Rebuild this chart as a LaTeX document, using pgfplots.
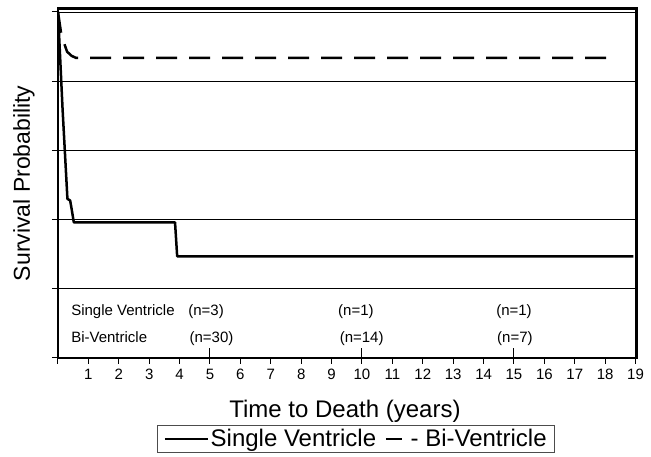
\documentclass[border=0pt]{standalone}
\usepackage{fontspec}
\setmainfont{Liberation Sans}
\usepackage{pgfplots}
\pgfplotsset{compat=1.18}
\tikzset{risk/.style={inner sep=0pt, anchor=base, font=\fontsize{15}{17}\selectfont}}
\begin{document}
\begin{tikzpicture}
\begin{axis}[
  scale only axis,
  width=578.5pt, height=349.5pt,
  xmin=0, xmax=19.03, ymin=0, ymax=1.01,
  xtick={0,1,2,3,4,5,6,7,8,9,10,11,12,13,14,15,16,17,18,19},
  xticklabels={,1,2,3,4,5,6,7,8,9,10,11,12,13,14,15,16,17,18,19},
  ytick={0,0.2,0.4,0.6,0.8,1},
  yticklabels={},
  ymajorgrids, grid style={black, line width=0.8pt},
  tick align=outside, tick pos=left, major tick length=6pt,
  axis line style={line width=2.5pt},
  tick style={black, line width=1pt},
  /pgf/number format/assume math mode=true,
  xticklabel style={font=\fontsize{15}{18}\selectfont, anchor=north,
    text height=11pt, text depth=0pt, inner sep=0pt, yshift=-4pt},
  xlabel={Time to Death (years)},
  ylabel={Survival Probability},
  xlabel style={font=\fontsize{24}{28}\selectfont, at={(axis description cs:0.496,-0.152)}, anchor=center},
  ylabel style={font=\fontsize{23}{27}\selectfont, at={(axis description cs:-0.0588,0.5)}, anchor=center},
  legend style={at={(axis description cs:0.515,-0.192)}, anchor=north,
    draw=black!70, line width=1pt, font=\fontsize{24}{28}\selectfont,
    inner xsep=6.5pt, inner ysep=2.5pt, nodes={inner sep=1.5pt},
    /tikz/every even column/.append style={column sep=7pt}},
  legend columns=2,
]
% single ventricle
\addplot[black, line width=2.5pt, line join=round,
  legend image code/.code={\draw[line width=2.5pt] (0pt,0pt) -- (43pt,0pt);}]
  coordinates {(0,1) (0.15,0.72) (0.31,0.46) (0.40,0.455) (0.45,0.43) (0.52,0.392)
               (3.85,0.392) (3.92,0.294) (18.93,0.294)};
\addlegendentry{Single Ventricle}
% bi-ventricle
\addplot[black, line width=2.5pt, dash pattern=on 21pt off 12pt,
  legend image code/.code={\draw[line width=2.5pt] (0pt,0pt) -- (16pt,0pt);}]
  coordinates {(0,1) (0.1,0.94) (0.2,0.91) (0.3,0.885) (0.45,0.873) (0.6,0.867) (18.17,0.867)};
\addlegendentry{\hspace{6pt}- Bi-Ventricle}

% number at risk
\node[risk, anchor=base west] at (axis cs:0.43,0.124) {Single Ventricle};
\node[risk, anchor=base west] at (axis cs:0.43,0.046) {Bi-Ventricle};
\node[risk] at (axis cs:4.87,0.124) {(n=3)};
\node[risk] at (axis cs:9.8,0.124) {(n=1)};
\node[risk] at (axis cs:15.0,0.124) {(n=1)};
\node[risk] at (axis cs:5.05,0.046) {(n=30)};
\node[risk] at (axis cs:9.99,0.046) {(n=14)};
\node[risk] at (axis cs:15.03,0.046) {(n=7)};
\draw[line width=1pt] (axis cs:5,0) -- ++(0,10pt);
\draw[line width=1pt] (axis cs:10,0) -- ++(0,10pt);
\draw[line width=1pt] (axis cs:15,0) -- ++(0,10pt);

\coordinate (sw) at (rel axis cs:0,0);
\coordinate (ne) at (rel axis cs:1,1);
\end{axis}
\path (sw) ++(-58pt,-99pt);
\path (ne) ++(14.5pt,8.5pt);
\end{tikzpicture}
\end{document}
